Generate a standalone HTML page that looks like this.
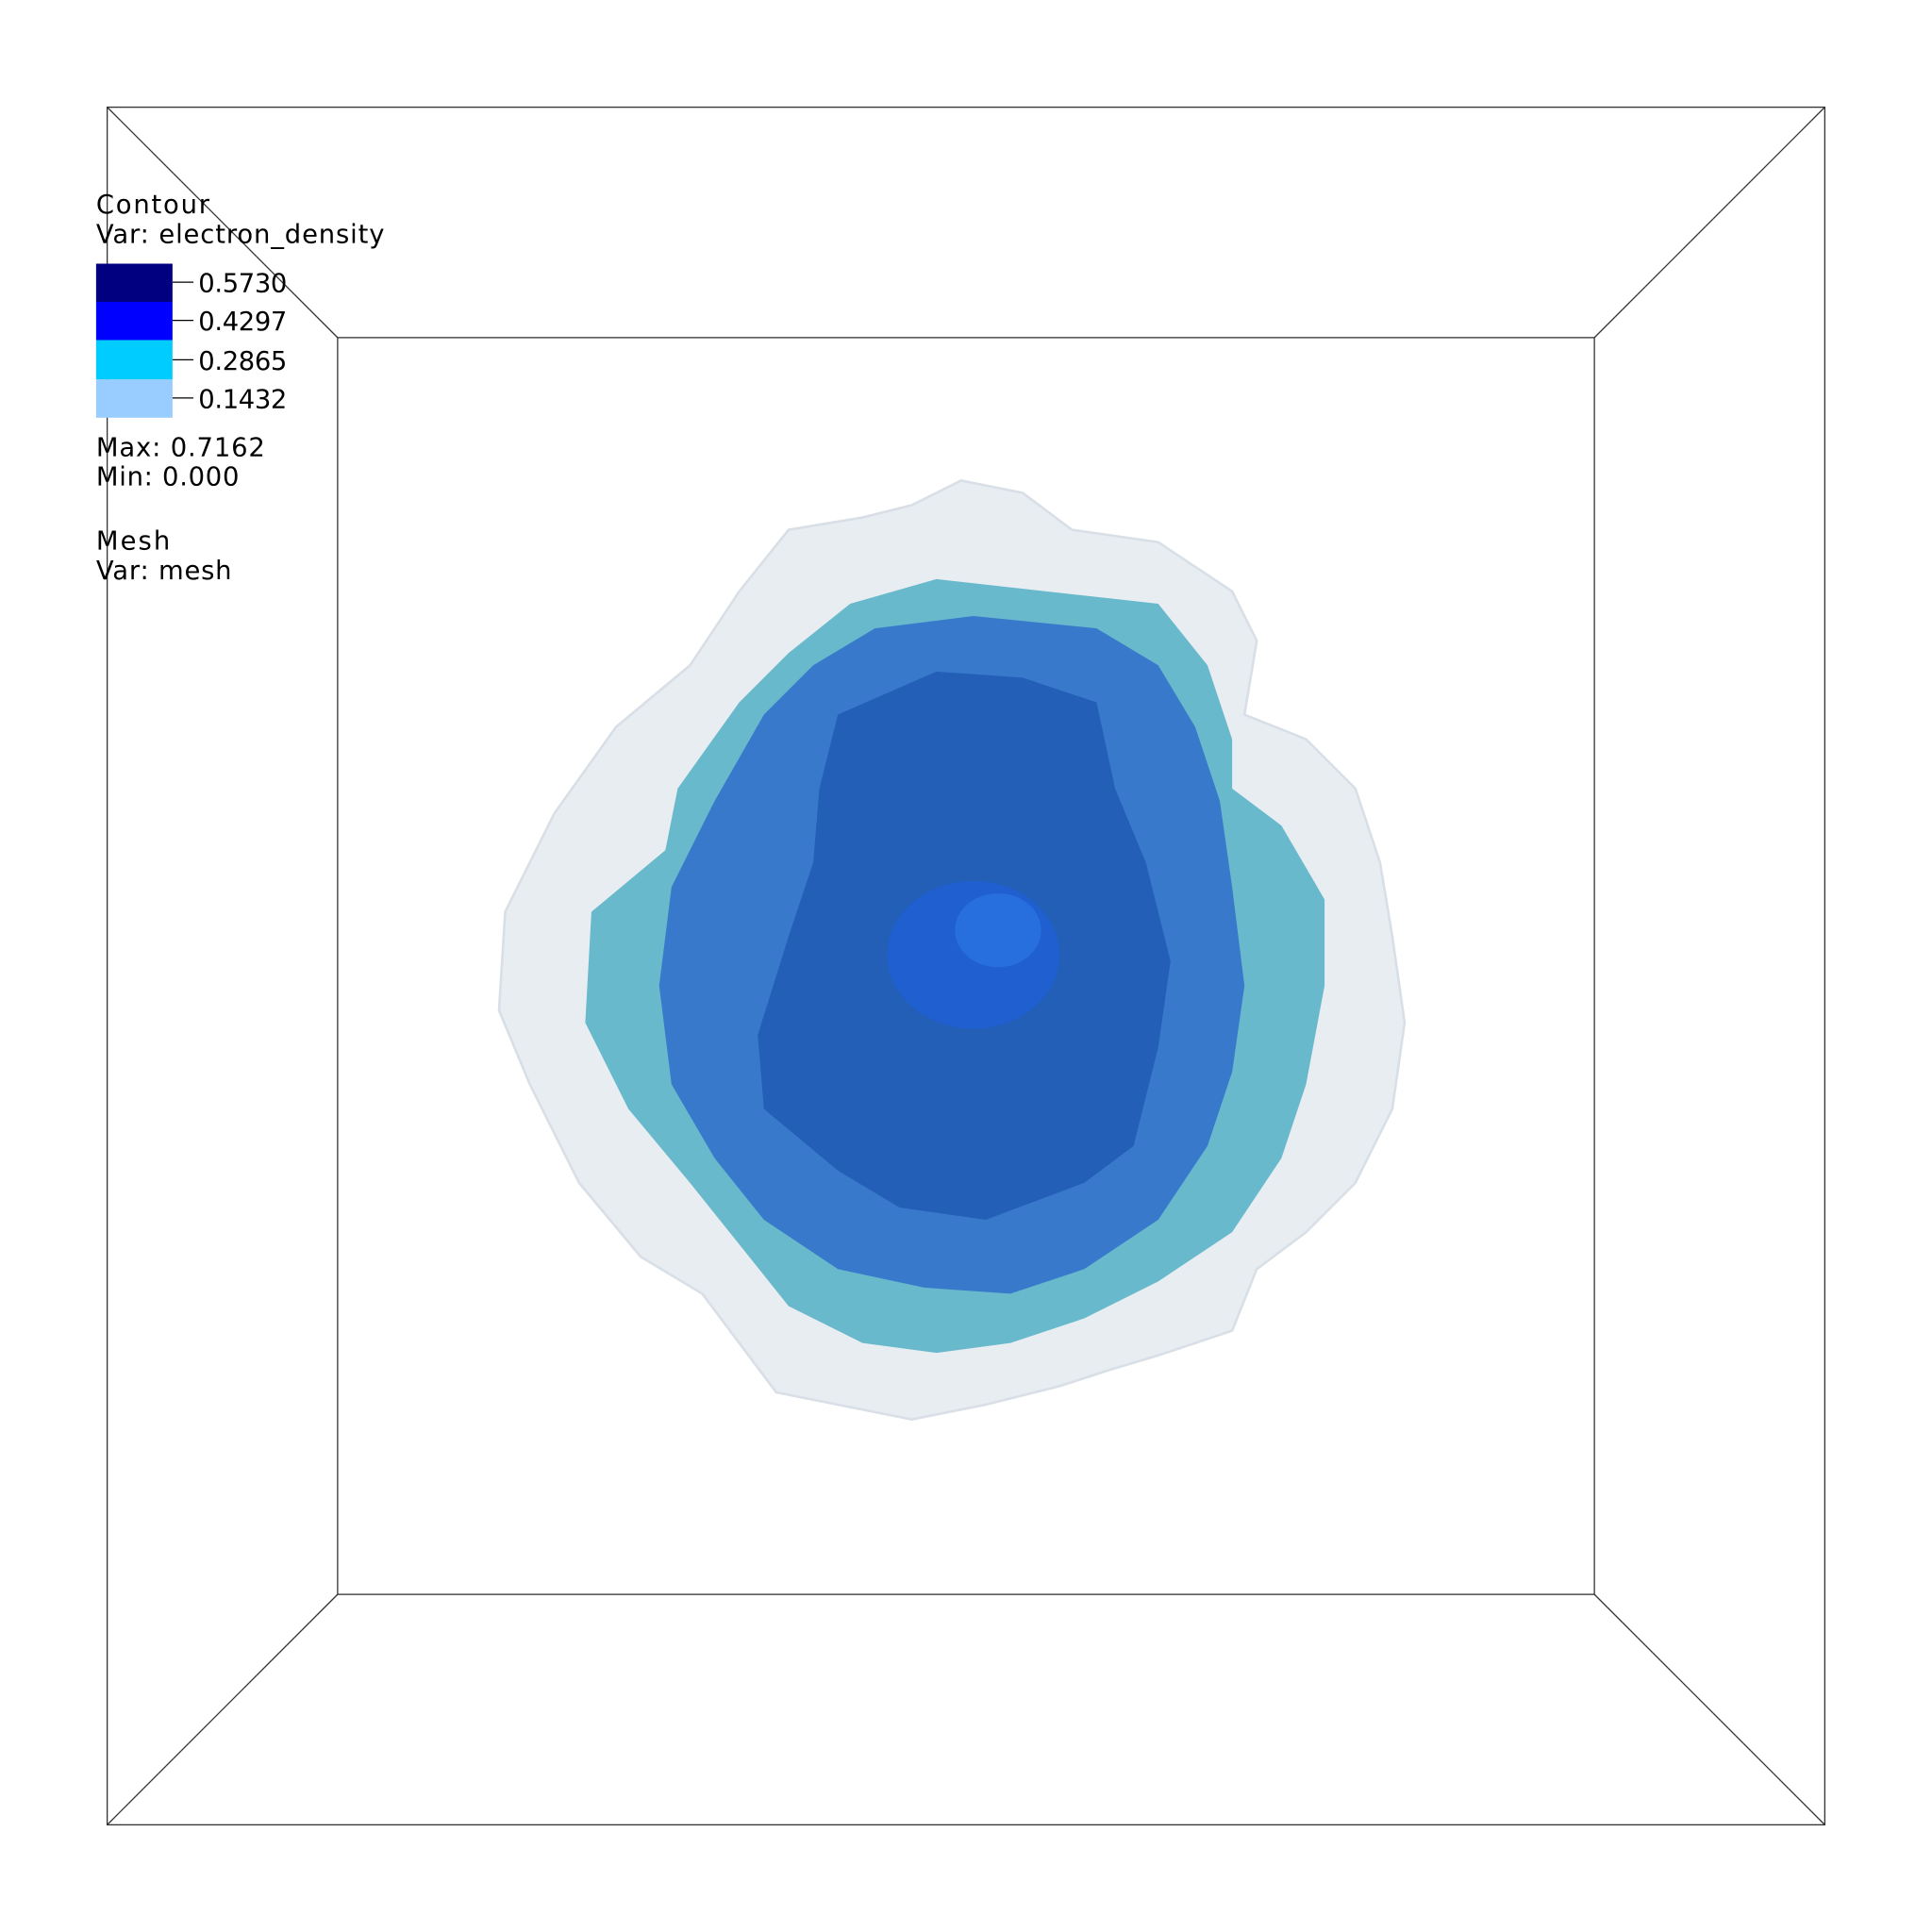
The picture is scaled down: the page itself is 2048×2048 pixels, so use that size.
<!DOCTYPE html>
<html><head><meta charset="utf-8"><style>
html,body{margin:0;padding:0;background:#fff}
svg{display:block}
text{font-family:"DejaVu Sans","Liberation Sans",sans-serif;font-size:21px;fill:#000}
</style></head><body>
<svg width="2048" height="2048" viewBox="0 0 1568 1568">
<g stroke="#333" stroke-width="1" fill="none">
<rect x="87" y="87" width="1394" height="1394"/>
<rect x="274" y="274" width="1020" height="1020"/>
<line x1="87" y1="87" x2="274" y2="274"/>
<line x1="1481" y1="87" x2="1294" y2="274"/>
<line x1="87" y1="1481" x2="274" y2="1294"/>
<line x1="1481" y1="1481" x2="1294" y2="1294"/>
</g>
<g>
<polygon fill="#e8edf2" stroke="#d8dfe6" stroke-width="2" points="780,390 830,400 870,430 940,440 1000,480 1020,520 1010,580 1060,600 1100,640 1120,700 1130,760 1140,830 1130,900 1100,960 1060,1000 1020,1030 1000,1080 940,1100 900,1112 860,1125 800,1140 740,1152 680,1140 630,1130 600,1090 570,1050 520,1020 470,960 430,880 405,820 410,740 450,660 500,590 560,540 600,480 640,430 700,420 740,410"/>
<polygon fill="#68b9cc" points="690,490 760,470 850,480 940,490 980,540 1000,600 1000,640 1040,670 1075,730 1075,800 1060,880 1040,940 1000,1000 940,1040 880,1070 820,1090 760,1098 700,1090 640,1060 600,1010 560,960 510,900 475,830 480,740 540,690 550,640 600,570 640,530"/>
<polygon fill="#3879cc" points="710,510 790,500 890,510 940,540 970,590 990,650 1000,720 1010,800 1000,870 980,930 940,990 880,1030 820,1050 750,1045 680,1030 620,990 580,940 545,880 535,800 545,720 580,650 620,580 660,540"/>
<polygon fill="#235fb6" points="680,580 760,545 830,550 890,570 905,640 930,700 950,780 940,850 920,930 880,960 800,990 730,980 680,950 620,900 615,840 640,760 660,700 665,640"/>
<ellipse cx="790" cy="775" rx="70" ry="60" fill="#1f5fd0"/>
<ellipse cx="810" cy="755" rx="35" ry="30" fill="#276ede"/>
</g>
<g>
<text x="78" y="173" textLength="92">Contour</text>
<text x="78" y="197" textLength="234">Var: electron_density</text>
<rect x="78" y="214" width="62" height="31" fill="#000080"/>
<rect x="78" y="245" width="62" height="31" fill="#0000ff"/>
<rect x="78" y="276" width="62" height="32" fill="#00ccff"/>
<rect x="78" y="308" width="62" height="31" fill="#99ccff"/>
<g stroke="#000" stroke-width="1"><line x1="140" y1="229" x2="157" y2="229"/><line x1="140" y1="260" x2="157" y2="260"/><line x1="140" y1="292" x2="157" y2="292"/><line x1="140" y1="323" x2="157" y2="323"/></g>
<text x="161" y="237" textLength="72">0.5730</text>
<text x="161" y="268" textLength="72">0.4297</text>
<text x="161" y="300" textLength="72">0.2865</text>
<text x="161" y="331" textLength="72">0.1432</text>
<text x="78" y="370" textLength="137">Max:  0.7162</text>
<text x="78" y="394" textLength="116">Min:  0.000</text>
<text x="78" y="446" textLength="60">Mesh</text>
<text x="78" y="470" textLength="110">Var: mesh</text>
</g>
</svg>
</body></html>
